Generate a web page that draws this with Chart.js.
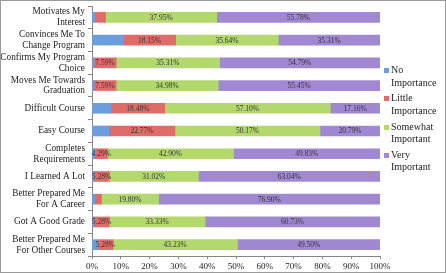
<!DOCTYPE html>
<html>
<head>
<meta charset="utf-8">
<script src="https://cdn.jsdelivr.net/npm/chart.js@4"></script>
<style>
    body { margin: 0; background: #fff; }
    #wrap { position: relative; width: 446px; height: 273px; }
    #frame { position: absolute; left: 0; top: 0; width: 444px; height: 271px; border: 1px solid #9a9a9a; pointer-events: none; }
    #legend { position: absolute; left: 384px; top: 64px; font-family: "Liberation Serif", serif; font-size: 10px; color: #222; line-height: 12.5px; }
    .item { position: relative; padding-left: 7px; margin-bottom: 3.3px; }
    .box { position: absolute; left: 0; top: 4px; width: 5px; height: 5px; }
</style>
</head>
<body>
<div id="wrap">
    <canvas id="chartContainer" width="446" height="273"></canvas>
    <div id="legend"></div>
    <div id="frame"></div>
</div>
<script>
const categories = [
    ["Motivates My", "Interest"],
    ["Convinces Me To", "Change Program"],
    ["Confirms My Program", "Choice"],
    ["Moves Me Towards", "Graduation"],
    "Difficult Course",
    "Easy Course",
    ["Completes", "Requirements"],
    "I Learned A Lot",
    ["Better Prepared Me", "For A Career"],
    "Got A Good Grade",
    ["Better Prepared Me", "For Other Courses"],
];
const seriesNames = [["No", "Importance"], ["Little", "Importance"], ["Somewhat", "Important"], ["Very", "Important"]];
const noImportance = [0.99, 10.89, 0.66, 0.66, 6.60, 5.94, 0.99, 0.66, 0.99, 0.66, 1.98];
const littleImportance = [3.63, 18.15, 7.59, 7.59, 18.48, 22.77, 4.29, 5.28, 2.31, 5.28, 5.28];
const somewhatImportant = [37.95, 35.64, 35.31, 34.98, 57.10, 50.17, 42.90, 31.02, 19.80, 33.33, 43.23];
const veryImportant = [55.78, 35.31, 54.79, 55.45, 17.16, 20.79, 49.83, 63.04, 76.90, 60.73, 49.50];
const xTicks = [0, 10, 20, 30, 40, 50, 60, 70, 80, 90, 100];
const colors = ["#6c9ddf", "#e06c6a", "#b3d86c", "#a088d2"];

const raw = [noImportance, littleImportance, somewhatImportant, veryImportant];
// 100% stacked: each row scaled to its total
const totals = categories.map((c, i) => raw.reduce((s, arr) => s + arr[i], 0));

const serif = "'Liberation Serif', 'Times New Roman', serif";

// draws the percentage text in the middle of each bar
const barLabels = {
    id: "barLabels",
    afterDatasetsDraw(chart) {
        const ctx = chart.ctx;
        ctx.save();
        ctx.font = "7.5px " + serif;
        ctx.fillStyle = "#333";
        ctx.textAlign = "center";
        ctx.textBaseline = "middle";
        chart.data.datasets.forEach((ds, d) => {
            if (d === 0) return;
            chart.getDatasetMeta(d).data.forEach((bar, i) => {
                const v = raw[d][i];
                if (v < 4) return;
                ctx.fillText(v.toFixed(2) + "%", (bar.x + bar.base) / 2, bar.y + 0.5);
            });
        });
        ctx.restore();
    },
};

new Chart(document.getElementById("chartContainer"), {
    type: "bar",
    data: {
        labels: categories,
        datasets: raw.map((arr, d) => ({
            label: seriesNames[d].join(" "),
            data: arr.map((v, i) => (v / totals[i]) * 100),
            backgroundColor: colors[d],
            borderWidth: 0,
            barThickness: 10,
        })),
    },
    options: {
        indexAxis: "y",
        responsive: false,
        animation: false,
        layout: { padding: { left: 1, top: 6, right: 66, bottom: 0 } },
        plugins: { legend: { display: false }, tooltip: { enabled: false } },
        scales: {
            x: {
                stacked: true,
                min: 0,
                max: 100,
                afterBuildTicks: (s) => { s.ticks = xTicks.map((v) => ({ value: v })); },
                ticks: { callback: (v) => v + "%", font: { family: serif, size: 9 }, color: "#222", padding: 2, maxRotation: 0 },
                grid: { drawOnChartArea: false, tickLength: 3, color: "#868686" },
                border: { color: "#868686" },
                afterFit: (s) => { s.height = 17; },
            },
            y: {
                stacked: true,
                ticks: { autoSkip: false, font: { family: serif, size: 9.3, lineHeight: 1.18 }, color: "#222", padding: 3 },
                grid: { drawOnChartArea: false, tickLength: 4, color: "#868686" },
                border: { color: "#868686" },
                afterFit: (s) => {
                    s.width = 91;
                    s.paddingTop = 0;
                    s.paddingBottom = 0;
                },
            },
        },
    },
    plugins: [barLabels],
});

// legend at the right, two lines per entry
const legend = document.getElementById("legend");
seriesNames.forEach((name, d) => {
    const item = document.createElement("div");
    item.className = "item";
    item.innerHTML = '<span class="box" style="background:' + colors[d] + '"></span>' + name.join("<br>");
    legend.appendChild(item);
});
</script>
</body>
</html>
